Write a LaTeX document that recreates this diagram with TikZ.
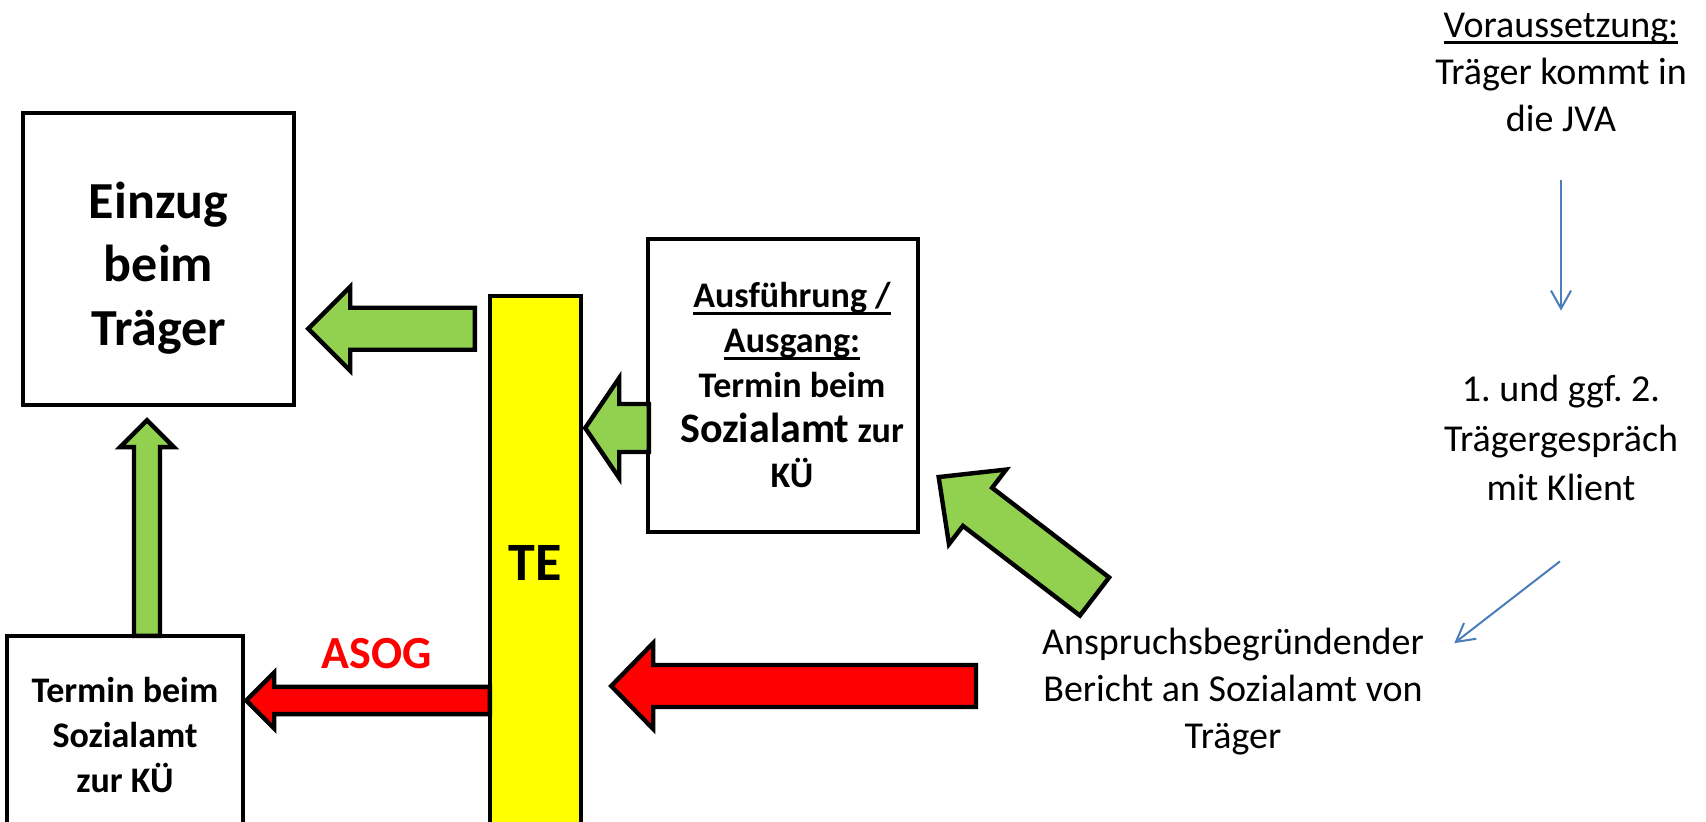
\documentclass[tikz,border=0pt]{standalone}
\usepackage{fontspec}
\setmainfont{Carlito}
\usetikzlibrary{calc}
\usetikzlibrary{arrows.meta}

\definecolor{arrowgreen}{HTML}{92D050}
\definecolor{arrowred}{HTML}{FF0000}
\definecolor{baryellow}{HTML}{FFFF00}
\definecolor{lineblue}{HTML}{4A7EBB}

\frenchspacing
% underline close to the baseline
\newcommand{\ulined}[1]{\setbox0\hbox{#1}\leavevmode\rlap{\rule[-3.3pt]{\wd0}{1.1pt}}\box0}

% block arrow: fill, from, to, half shaft, half head, head length
\newcommand{\blockarrow}[6]{%
  \draw[blockarrow, fill=#1] let \p1=#2, \p2=#3,
      \n1={atan2(\y2-\y1,\x2-\x1)}, \n2={veclen(\x2-\x1,\y2-\y1)} in
      [shift={(\p1)}, rotate=\n1]
      (0pt,-#4) -- (\n2-#6,-#4) -- (\n2-#6,-#5) -- (\n2,0pt)
      -- (\n2-#6,#5) -- (\n2-#6,#4) -- (0pt,#4) -- cycle;
}

\begin{document}
\begin{tikzpicture}[x=0.5pt, y=-0.5pt,
    infobox/.style={draw, line width=2.2pt, fill=white, align=center,
      font=\fontsize{18}{22.5}\selectfont\bfseries},
    boxlabel/.style={align=center, font=\fontsize{18}{22.5}\selectfont\bfseries},
    tebar/.style={draw, line width=2.2pt, fill=baryellow,
      font=\fontsize{27}{32}\selectfont\bfseries},
    blockarrow/.style={draw, line width=2.2pt, line join=miter},
    plaintext/.style={align=center, inner sep=0pt,
      font=\fontsize{19}{23.5}\selectfont},
    bluearrow/.style={draw=lineblue, line width=1pt,
      -{Straight Barb[length=9pt,width=10pt]}}]

    \useasboundingbox (0,0) rectangle (1706,822);

    % boxes
    \node[infobox, minimum width=135.5pt, minimum height=146pt,
      label={[boxlabel, yshift=-4.5pt, font=\fontsize{26}{31.75}\selectfont\bfseries]center:Einzug\\beim\\Träger}]
      (einzug) at (158.5,259) {};
    \node[tebar, minimum width=45.5pt, minimum height=267pt] (te) at (535.5,563) {TE};
    \node[infobox, minimum width=135pt, minimum height=146.5pt,
      label={[boxlabel, xshift=4.5pt]center:\ulined{Ausführung /}\\\ulined{Ausgang:}\\Termin beim\\
       {\fontsize{21}{22.5}\selectfont Sozialamt} zur\\KÜ}]
      (ausf) at (783,385.5) {};
    \node[infobox, minimum width=118pt, minimum height=99pt] (termin) at (125,735)
      {Termin beim\\Sozialamt\\zur KÜ};

    % texts on the right
    \node[plaintext] (vorauss) at (1561,72) {\ulined{Voraussetzung:}\\Träger kommt in\\die JVA};
    \node[plaintext, font=\fontsize{19}{24.8}\selectfont] (gespraech) at (1561,438)
      {1. und ggf. 2.\\Trägergespräch\\mit Klient};
    \node[plaintext] (report) at (1233,692) {Anspruchsbegründender\\Bericht an Sozialamt von\\Träger};
    \node[inner sep=0pt, text=arrowred, font=\fontsize{23}{28}\selectfont\bfseries] (asog)
      at (376.5,653.5) {ASOG};

    \coordinate (reportTail) at (976,686);
    \coordinate (diagTail) at (1094.5,596.5);

    % block arrows
    \blockarrow{arrowgreen}{($(te.north west)+(-13,35)$)}{($(einzug.east |- te.north west)+(12,35)$)}{10.5pt}{21pt}{21pt}
    \blockarrow{arrowgreen}{($(ausf.west)+(3,42.5)$)}{($(te.east |- ausf.west)+(2,42.5)$)}{12pt}{25pt}{17pt}
    \blockarrow{arrowgreen}{($(termin.north)+(22,2)$)}{($(termin.north |- einzug.south)+(22,13)$)}{6.5pt}{13.5pt}{13.5pt}
    \blockarrow{arrowred}{($(te.west |- termin.east)+(2,-34.5)$)}{($(termin.east)+(1,-34.5)$)}{6.8pt}{14pt}{14pt}
    \blockarrow{arrowred}{(reportTail)}{($(te.east |- reportTail)+(28,0)$)}{10.5pt}{21.5pt}{21pt}
    \blockarrow{arrowgreen}{(diagTail)}{($(ausf.south east)+(18,-57.5)$)}{12pt}{23.5pt}{24.5pt}

    % thin arrows
    \draw[bluearrow] ($(vorauss.south)+(0,48)$) -- ($(gespraech.north)+(0,-64)$);
    \draw[bluearrow] ($(gespraech.south)+(-1,60)$) -- ($(report.north east)+(30,15)$);
\end{tikzpicture}
\end{document}
